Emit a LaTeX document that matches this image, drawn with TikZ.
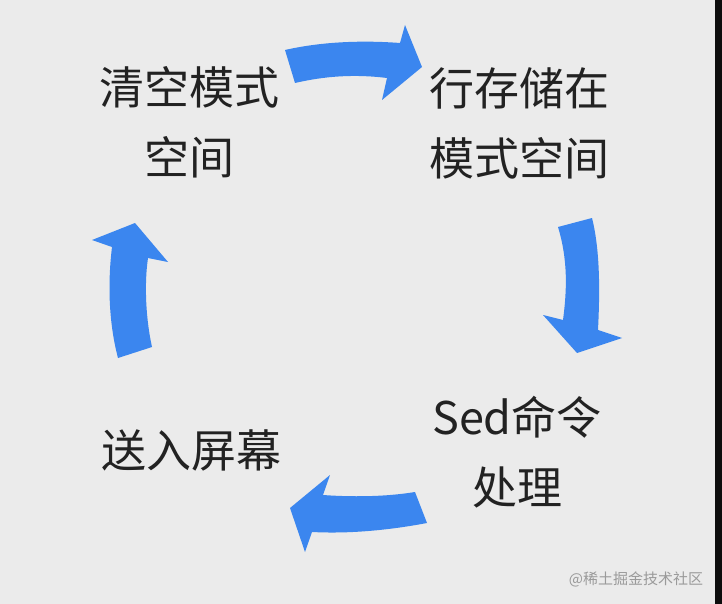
\documentclass[tikz,border=0pt]{standalone}
\usepackage{fontspec}
\newfontfamily\cjk{Noto Sans CJK SC}
\definecolor{bgc}{HTML}{EBEBEB}
\definecolor{arrowblue}{HTML}{3B86EF}
\definecolor{txt}{HTML}{222222}
\definecolor{wm}{HTML}{9A9A9A}
\begin{document}
\begin{tikzpicture}[x=1pt,y=-1pt,
  label/.style={font=\cjk\fontsize{45}{70}\selectfont, text=txt, align=center, inner sep=0pt},
  bigarrow/.style={fill=arrowblue, draw=none}]
\useasboundingbox (0,0) rectangle (722,604);
\fill[bgc] (0,0) rectangle (722,604);
\fill[black!95] (715,0) rectangle (722,604);

\node[label] (clear) at (189,122) {清空模式\\空间};
\node[label] (store) at (519,123) {行存储在\\模式空间};
\node[label] (sed) at (517,452) {Sed命令\\处理};
\node[label] (screen) at (191,450) {送入屏幕};
\node[font=\cjk\fontsize{15}{18}\selectfont, text=wm, inner sep=0pt] (mark) at (636,579) {@稀土掘金技术社区};

% top arrow (clear -> store)
\fill[bigarrow] (285,50) .. controls (320,42) and (360,40) .. (400,43) -- (405,25) -- (422,67) -- (382,100) -- (387,78) .. controls (355,74) and (325,76) .. (295,83) -- cycle;
% right arrow (store -> sed)
\fill[bigarrow] (558,227) .. controls (568,260) and (567,290) .. (563,320) -- (543,315) -- (577,353) -- (622,338) -- (598,330) .. controls (600,290) and (600,250) .. (592,218) -- cycle;
% bottom arrow (sed -> screen)
\fill[bigarrow] (415,492) .. controls (385,497) and (350,497) .. (323,495) -- (330,475) -- (290,508) -- (305,552) -- (312,532) .. controls (350,534) and (390,530) .. (427,523) -- cycle;
% left arrow (screen -> clear)
\fill[bigarrow] (118,358) .. controls (108,320) and (108,280) .. (112,247) -- (92,240) -- (135,223) -- (168,262) -- (148,258) .. controls (144,285) and (146,320) .. (152,347) -- cycle;
\end{tikzpicture}
\end{document}
